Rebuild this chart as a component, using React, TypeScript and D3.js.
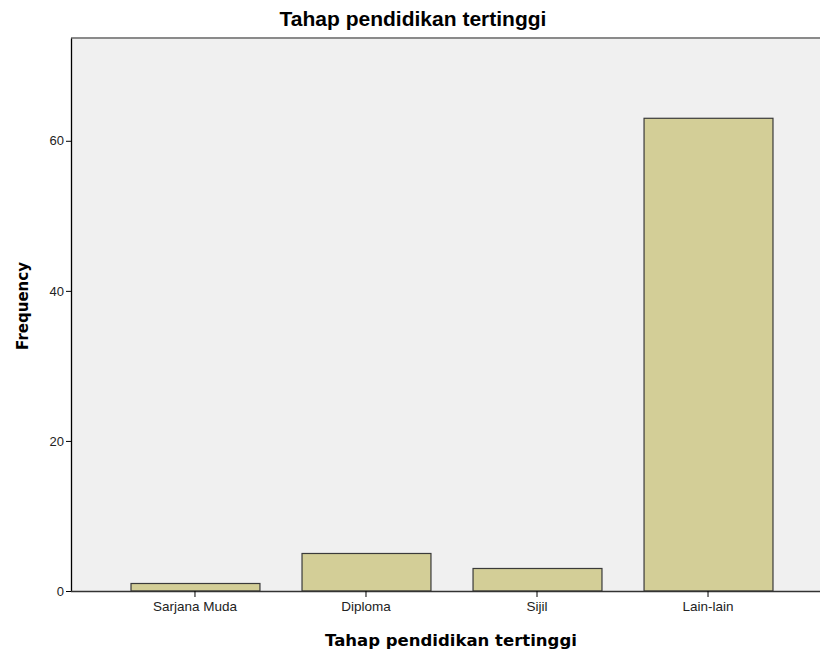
import React, { useEffect, useRef } from "react";
import * as d3 from "d3";

const categories = ["Sarjana Muda", "Diploma", "Sijil", "Lain-lain"];
const frequencies = [1, 5, 3, 63];
const yTicks = [0, 20, 40, 60];

const App = () => {
  const ref = useRef<SVGSVGElement>(null);

  useEffect(() => {
    const svg = d3.select(ref.current);
    svg.selectAll("*").remove();

    const W = 820, H = 652;
    const left = 71, top = 38, bottom = 591, right = 832;
    const font = "'Liberation Sans', Arial, sans-serif";
    const wide = "'DejaVu Sans', Verdana, sans-serif";

    const x = d3.scaleBand<string>()
      .domain(categories)
      .range([left, right])
      .paddingInner(0.246)
      .paddingOuter(0.348);

    const y = d3.scaleLinear().domain([0, 73.7]).range([bottom, top]);

    svg.attr("width", W).attr("height", H);

    // plot background
    svg.append("rect")
      .attr("x", left).attr("y", top)
      .attr("width", right - left).attr("height", bottom - top)
      .attr("fill", "#f0f0f0");
    svg.append("line")
      .attr("x1", left).attr("x2", W).attr("y1", top).attr("y2", top)
      .attr("stroke", "#8a8a8a").attr("stroke-width", 2);

    svg.selectAll(".bar")
      .data(frequencies)
      .enter().append("rect")
      .attr("class", "bar")
      .attr("x", (d, i) => x(categories[i])! + 0.5)
      .attr("y", d => y(d))
      .attr("width", x.bandwidth())
      .attr("height", d => bottom - y(d))
      .attr("fill", "#d3ce97")
      .attr("stroke", "#3a3a3a")
      .attr("stroke-width", 1.2);

    // y axis
    const yAxis = svg.append("g")
      .attr("transform", `translate(${left},0)`)
      .call(d3.axisLeft(y).tickValues(yTicks).tickSize(5).tickSizeOuter(0).tickPadding(2));
    yAxis.select(".domain").attr("stroke", "#000").attr("stroke-width", 1.3);
    yAxis.selectAll("text").attr("font-family", font).attr("font-size", 13).attr("fill", "#222");

    // x axis
    const xAxis = svg.append("g")
      .attr("transform", `translate(0,${bottom})`)
      .call(d3.axisBottom(x).tickSize(6).tickSizeOuter(0).tickPadding(4));
    xAxis.select(".domain").attr("d", `M${left},0.5H${W}`).attr("stroke", "#333").attr("stroke-width", 1.3);
    xAxis.selectAll("text").attr("font-family", font).attr("font-size", 13.5).attr("fill", "#222");

    svg.append("text")
      .attr("x", 413).attr("y", 26)
      .attr("text-anchor", "middle")
      .attr("font-family", font).attr("font-size", 21).attr("font-weight", "bold")
      .text("Tahap pendidikan tertinggi");

    svg.append("text")
      .attr("x", 451).attr("y", 646)
      .attr("text-anchor", "middle")
      .attr("font-family", wide).attr("font-size", 16.5).attr("font-weight", "bold")
      .text("Tahap pendidikan tertinggi");

    svg.append("text")
      .attr("transform", `translate(28,306) rotate(-90)`)
      .attr("text-anchor", "middle")
      .attr("font-family", wide).attr("font-size", 15).attr("font-weight", "bold")
      .text("Frequency");
  }, []);

  return (
    <div style={{ position: "absolute", left: 0, top: 0 }}>
      <svg ref={ref} style={{ display: "block" }} />
    </div>
  );
};

export default App;
